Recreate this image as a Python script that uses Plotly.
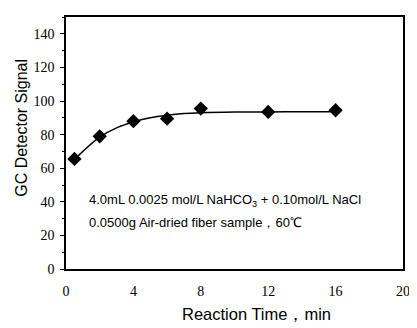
import plotly.graph_objects as go

# measured data points
time_min = [0.5, 2, 4, 6, 8, 12, 16]
signal = [65.5, 79, 88, 89.5, 95.5, 93.5, 94.5]

# fitted curve
curve_x = [0.5, 1, 2, 3, 4, 5, 6, 7, 8, 10, 12, 14, 16]
curve_y = [65, 70, 78.5, 84, 87.5, 90, 91.5, 92.5, 93, 93.4, 93.5, 93.6, 93.6]

x_ticks = [0, 4, 8, 12, 16, 20]
y_ticks = [0, 20, 40, 60, 80, 100, 120, 140]

fig = go.Figure()
fig.add_trace(go.Scatter(x=curve_x, y=curve_y, mode="lines", line=dict(color="black", width=1.5, shape="spline"),
                         hoverinfo="skip"))
fig.add_trace(go.Scatter(x=time_min, y=signal, mode="markers",
                         marker=dict(symbol="diamond", size=11, color="black")))

serif = "Liberation Serif"
sans = "Liberation Sans"

# page body has an 8px default margin: figure is offset by (8, 8)
OFF = 8
W, H = 417 - OFF, 328 - OFF
L, T = 66 - OFF, 15 - OFF
R = W - (408 - OFF)
B = H - (269 - OFF)
pw, ph = W - L - R, H - T - B

fig.update_layout(
    width=W, height=H,
    margin=dict(l=L, r=R, t=T, b=B),
    plot_bgcolor="white", paper_bgcolor="white",
    showlegend=False,
    xaxis=dict(range=[0, 20], tickvals=x_ticks, showgrid=False, zeroline=False,
               showline=True, linecolor="black", linewidth=1.5, mirror=True,
               ticks="", ticklabelstandoff=8,
               tickfont=dict(family=serif, size=14, color="black")),
    yaxis=dict(range=[0, 150], tickvals=y_ticks, showgrid=False, zeroline=False,
               showline=True, linecolor="black", linewidth=1.5, mirror=True,
               ticks="outside", ticklen=4, tickcolor="black", ticklabelstandoff=3,
               minor=dict(dtick=10, ticks="outside", ticklen=2, tickcolor="black"),
               tickfont=dict(family=serif, size=14, color="black")),
    annotations=[
        dict(text="GC Detector Signal", textangle=-90, xref="paper", yref="paper",
             x=(20 - 66) / pw, y=(269 - 127) / ph, xanchor="center", yanchor="middle", showarrow=False,
             font=dict(family=sans, size=16, color="black")),
        dict(text="Reaction Time，min", xref="paper", yref="paper",
             x=(259 - 66) / pw, y=(269 - 314) / ph, xanchor="center", yanchor="middle", showarrow=False,
             font=dict(family=sans, size=16.5, color="black")),
        dict(text="4.0mL 0.0025 mol/L NaHCO<sub>3</sub> + 0.10mol/L NaCl",
             x=1.25, y=40.5, xref="x", yref="y", xanchor="left", yanchor="middle",
             showarrow=False, font=dict(family=sans, size=13, color="black")),
        dict(text="0.0500g Air-dried fiber sample，60℃",
             x=1.25, y=27.5, xref="x", yref="y", xanchor="left", yanchor="middle",
             showarrow=False, font=dict(family=sans, size=13, color="black")),
    ],
)

fig.write_html("out.html")
